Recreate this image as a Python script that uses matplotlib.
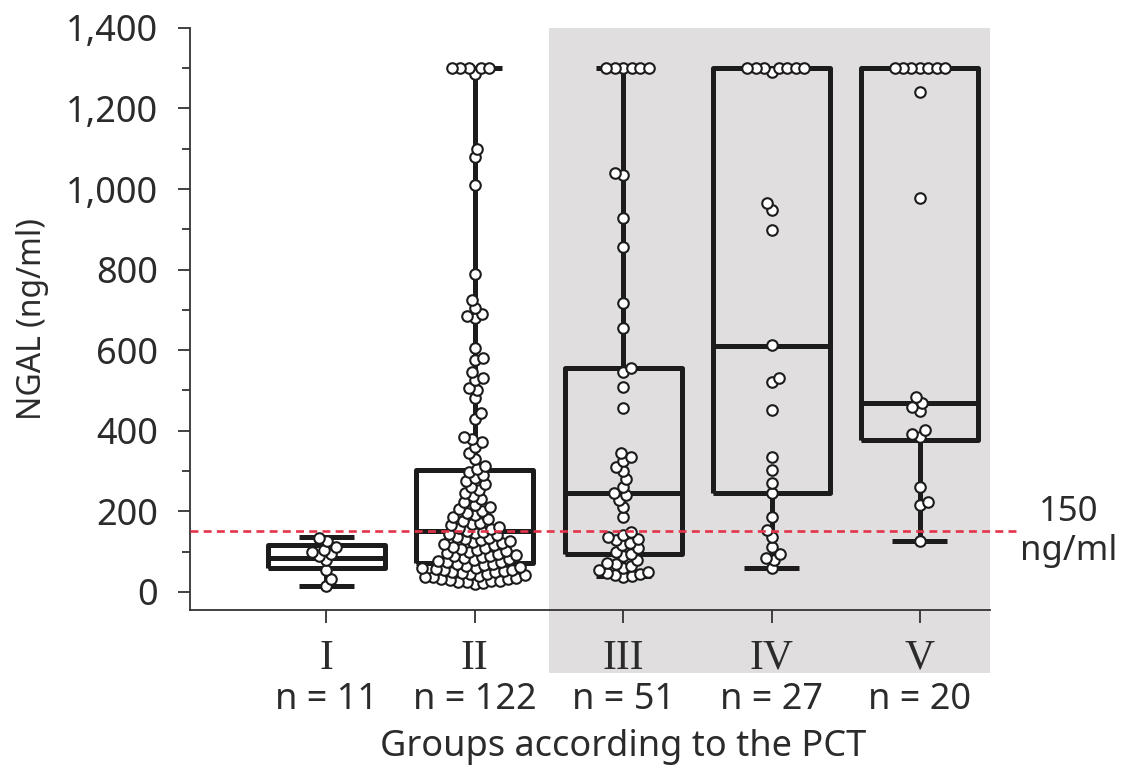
import numpy as np
import matplotlib.pyplot as plt
import matplotlib.ticker as mticker
import matplotlib.transforms as mtransforms
from matplotlib.patches import Rectangle

plt.rcParams['font.family'] = ['Noto Sans', 'DejaVu Sans']

groups = ['I', 'II', 'III', 'IV', 'V']

# NGAL per patient, ng/ml (values above the assay range recorded as 1300)
ngal_I = [15, 32, 55, 78, 88, 95, 100, 105, 112, 125, 134]
ngal_II = [20, 22, 24, 25, 27, 28, 30, 31, 33, 35, 36, 38, 40, 41, 43, 45, 46, 48,
           50, 52, 53, 55, 57, 58, 60, 62, 64, 66, 68, 70,
           73, 75, 77, 80, 82, 84, 86, 88, 90, 92, 95, 97, 100, 102, 105, 107, 110,
           112, 115, 118, 120, 123, 125, 128, 131, 134, 137, 140, 143, 146, 149,
           152, 155, 158, 162, 165, 168, 172, 176, 180, 185, 190, 195, 200, 205,
           210, 215, 222, 230, 238, 245, 252, 260, 268, 275, 282, 290, 297,
           305, 312, 330, 345, 360, 372, 380, 385, 430, 445, 480, 500, 505, 525,
           530, 545, 575, 580, 605, 680, 685, 690, 705, 725, 790, 1010, 1080, 1100,
           1285, 1300, 1300, 1300, 1300, 1300]
ngal_III = [38, 40, 42, 44, 46, 50, 55, 60, 65, 70, 72, 80, 88,
            95, 100, 108, 115, 120, 128, 130, 135, 142, 148,
            185, 210, 228, 240, 245, 260, 280, 300, 310, 325, 335, 345,
            457, 509, 545, 555, 655, 717, 856, 928, 1035, 1040,
            1300, 1300, 1300, 1300, 1300, 1300]
ngal_IV = [60, 80, 84, 95, 112, 137, 154, 186, 246, 270, 303, 335, 452, 520, 530,
           613, 898, 948, 965, 1290, 1300, 1300, 1300, 1300, 1300, 1300, 1300]
ngal_V = [125, 215, 222, 261, 385, 392, 402, 450, 460, 470, 484, 978, 1240,
          1300, 1300, 1300, 1300, 1300, 1300, 1300]

# box summaries per group
whisker_low = [15, 22, 40, 60, 125]
q1 = [58, 72, 95, 245, 377]
median = [85, 150, 245, 610, 468]
q3 = [115, 303, 555, 1300, 1300]
whisker_high = [135, 1300, 1300, 1300, 1300]

cutoff = 150

values = [ngal_I, ngal_II, ngal_III, ngal_IV, ngal_V]

ink = '#1c1c1c'
text_color = '#2b2b2b'
marker_pt = 7.6


def swarm(ax, center, vals, gap_px):
    """Beeswarm layout in display space; returns x data positions."""
    to_disp = ax.transData
    pts = to_disp.transform(np.column_stack([np.full(len(vals), center), vals]))
    x0 = pts[0, 0]
    order = np.argsort(pts[:, 1], kind='stable')
    placed = []
    n_left = n_right = 0
    xs = np.empty(len(vals))
    for i in order:
        y = pts[i, 1]
        near = [(px, py) for px, py in placed if abs(py - y) < gap_px]
        cands = [0.0]
        for px, py in near:
            dx = np.sqrt(gap_px ** 2 - (py - y) ** 2)
            cands += [px + dx, px - dx]
        ok = [c for c in cands
              if all((c - px) ** 2 + (y - py) ** 2 >= gap_px ** 2 - 1e-6
                     for px, py in near)]
        best = min(abs(c) for c in ok)
        close = [c for c in ok if abs(c) <= best + 0.35 * gap_px]
        # among near-equal spots, fill the emptier side
        if n_left < n_right:
            c = min(close)
        elif n_right < n_left:
            c = max(close)
        else:
            c = min(close, key=abs)
        if c < -0.5:
            n_left += 1
        elif c > 0.5:
            n_right += 1
        placed.append((c, y))
        xs[i] = x0 + c
    back = to_disp.inverted().transform(np.column_stack([xs, pts[:, 1]]))
    return back[:, 0]


fig = plt.figure(figsize=(11.31, 7.76), dpi=100)
ax = fig.add_axes([0.168, 0.214, 0.707, 0.750])

x_lo, x_hi = -0.92, 4.47
ax.set_xlim(x_lo, x_hi)
ax.set_ylim(-45, 1400)

# shaded groups III-V
ax.add_patch(Rectangle((1.5, -201), x_hi - 1.5, 1400 + 201, transform=ax.transData,
                       facecolor='#e0dedf', edgecolor='none', clip_on=False, zorder=0))

stats = [dict(whislo=a, q1=b, med=c, q3=d, whishi=e)
         for a, b, c, d, e in zip(whisker_low, q1, median, q3, whisker_high)]
line_kw = dict(color=ink, linewidth=3.6, solid_capstyle='butt')
ax.bxp(stats, positions=range(len(groups)), widths=0.79, capwidths=0.37,
       showfliers=False, boxprops=line_kw, whiskerprops=line_kw,
       capprops=line_kw, medianprops=line_kw, manage_ticks=False, zorder=2)

diam_px = marker_pt * fig.dpi / 72
for i, v in enumerate(values):
    xs = swarm(ax, i, v, 0.8 * diam_px)
    ax.scatter(xs, v, s=marker_pt ** 2, facecolor='white', edgecolor=ink,
               linewidth=1.5, zorder=3)

# cut-off line
ax.plot([x_lo, 4.66], [cutoff, cutoff], color='#e3344a', linewidth=1.9,
        dashes=(3, 2), clip_on=False, zorder=4)
ax.text(5.0, cutoff, f'{cutoff}\nng/ml', ha='center', va='center', fontsize=25,
        color=text_color, linespacing=1.2, clip_on=False)

ax.set_yticks(range(0, 1401, 200))
ax.yaxis.set_minor_locator(mticker.MultipleLocator(100))
ax.yaxis.set_major_formatter(mticker.StrMethodFormatter('{x:,.0f}'))
ax.tick_params(axis='y', which='major', length=9, width=1.3, pad=14,
               labelsize=26, colors='#333333', labelcolor=text_color)
ax.tick_params(axis='y', which='minor', length=6, width=1.3, colors='#333333')

ax.set_xticks(range(len(groups)))
ax.set_xticklabels(groups, family=['Liberation Serif'], fontsize=30)
ax.tick_params(axis='x', length=9, width=1.3, pad=12, colors='#333333',
               labelcolor=text_color)

trans = mtransforms.blended_transform_factory(ax.transData, ax.transAxes)
for i, v in enumerate(values):
    ax.text(i, -0.155, f'n = {len(v)}', transform=trans, ha='center', va='center',
            fontsize=26, color=text_color)
ax.text(2, -0.236, 'Groups according to the PCT', transform=trans, ha='center',
        va='center', fontsize=26, color=text_color)

ax.set_ylabel('NGAL (ng/ml)', fontsize=23, color=text_color, labelpad=12)

for side in ['top', 'right']:
    ax.spines[side].set_visible(False)
for side in ['left', 'bottom']:
    ax.spines[side].set_color('#333333')
    ax.spines[side].set_linewidth(1.3)

fig.savefig('out.png', dpi=100)
